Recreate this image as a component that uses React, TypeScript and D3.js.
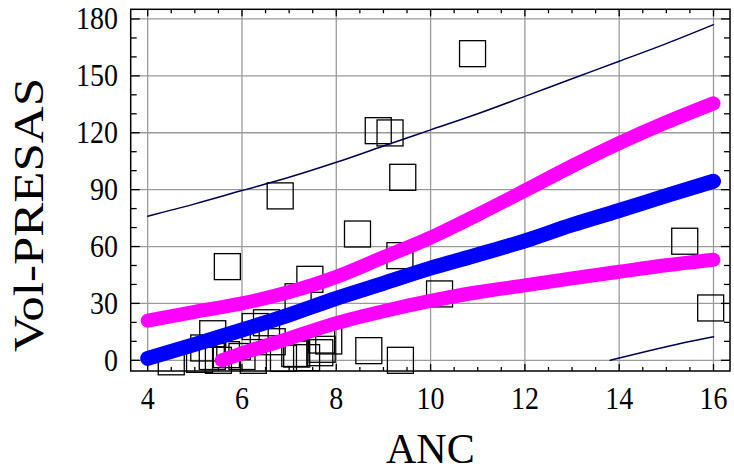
import React from "react";
import * as d3 from "d3";

// Scatter data (ANC, Vol-PRESAS)
const pointsX = [10.89, 8.89, 9.14, 9.41, 6.81, 8.45, 5.69, 7.44, 9.35, 10.19, 15.39, 15.94, 7.19, 8.69, 9.36, 4.5,
  5.38, 5.19, 5.1, 5.37, 5.67, 5.9, 6.28, 6.52, 6.64, 6.24, 6.88, 7.12, 7.37, 7.65, 7.69, 7.84, 6.0, 5.5, 7.16, 7.7];
const pointsY = [161.7, 121.1, 119.9, 96.5, 86.7, 66.6, 49.4, 42.7, 55.2, 35, 62.8, 27.6, 33.5, 5.1, 0, -0.8,
  14, 6.5, 0.5, 2, 3, 7.2, 17.8, 19.8, 9.8, 0, 1, 3.6, 1.4, 4, 10.7, 10.2, 2, 0, 3.3, 5.8];

// Fitted line and bands
const bandX = [4, 5, 6, 7, 8, 9, 10, 11, 12, 13, 14, 15, 16];
const fitY = [1, 8.4, 16, 24, 32.7, 40.6, 48.6, 55.7, 63, 71.4, 79, 86.8, 94.4];
const upperConfY = [20.9, 25.6, 30, 36, 44, 54.3, 64.7, 76.8, 89.5, 102.4, 114.5, 125.5, 135.5];
const lowerConfX = [5.57, 6, 7, 8, 9, 10, 11, 12, 13, 14, 15, 16];
const lowerConfY = [0, 3.7, 11.6, 19.6, 25.9, 31.3, 35.9, 39.5, 43.2, 46.7, 50.1, 53];
const upperPredY = [76, 82.5, 89.5, 96.5, 104.4, 113, 121.5, 130, 139.2, 148.5, 157.7, 167, 177];
const lowerPredX = [13.81, 14, 15, 16];
const lowerPredY = [0, 1.2, 7.2, 12.4];

const xTicks = [4, 6, 8, 10, 12, 14, 16];
const yTicks = [0, 30, 60, 90, 120, 150, 180];
const xLabel = "ANC";
const yLabel = "Vol-PRESAS";

const W = 734, H = 472;
const L = 130.7, R = 730, T = 9.3, B = 371;

export default function App() {
  const x = d3.scaleLinear().domain([3.64, 16.35]).range([L, R]);
  const y = d3.scaleLinear().domain([-5.64, 185.1]).range([B, T]);
  const line = d3.line<[number, number]>().x(d => x(d[0])).y(d => y(d[1])).curve(d3.curveMonotoneX);
  const zip = (xs: number[], ys: number[]) => xs.map((v, i) => [v, ys[i]] as [number, number]);

  const xMinor = d3.range(4, 16.01, 0.5).filter(v => Math.abs(v % 2) > 0.01);
  const yMinor = d3.range(0, 181, 10).filter(v => v % 30 !== 0);
  const font = "'Liberation Serif', 'Times New Roman', serif";
  const tick = { stroke: "#000", strokeWidth: 1.3 };

  return (
    <svg width={W} height={H} style={{ position: "absolute", left: 0, top: 0, background: "#fff" }}>
      <defs>
        <clipPath id="plot"><rect x={L} y={T} width={R - L} height={B - T} /></clipPath>
      </defs>
      <rect x={0} y={0} width={W} height={H} fill="#fff" />
      {/* grid */}
      {xTicks.map(t => <line key={"gx" + t} x1={x(t)} x2={x(t)} y1={T} y2={B} stroke="#9a9a9a" strokeWidth={1.3} />)}
      {yTicks.map(t => <line key={"gy" + t} x1={L} x2={R} y1={y(t)} y2={y(t)} stroke="#9a9a9a" strokeWidth={1.3} />)}
      {/* ticks */}
      {xTicks.map(t => (
        <g key={"tx" + t}>
          <line x1={x(t)} x2={x(t)} y1={B} y2={B - 7} {...tick} />
          <line x1={x(t)} x2={x(t)} y1={T} y2={T + 7} {...tick} />
        </g>
      ))}
      {xMinor.map(t => (
        <g key={"mx" + t}>
          <line x1={x(t)} x2={x(t)} y1={B} y2={B - 4} {...tick} />
          <line x1={x(t)} x2={x(t)} y1={T} y2={T + 4} {...tick} />
        </g>
      ))}
      {yTicks.map(t => (
        <g key={"ty" + t}>
          <line x1={L} x2={L + 9} y1={y(t)} y2={y(t)} {...tick} />
          <line x1={R} x2={R - 9} y1={y(t)} y2={y(t)} {...tick} />
        </g>
      ))}
      {yMinor.map(t => (
        <g key={"my" + t}>
          <line x1={L} x2={L + 6} y1={y(t)} y2={y(t)} {...tick} />
          <line x1={R} x2={R - 6} y1={y(t)} y2={y(t)} {...tick} />
        </g>
      ))}
      {/* points */}
      <g>
        {pointsX.map((px, i) => (
          <rect key={"p" + i} x={x(px) - 13} y={y(pointsY[i]) - 13} width={26} height={26}
            fill="none" stroke="#000" strokeWidth={1.3} />
        ))}
      </g>
      {/* lines */}
      <g clipPath="url(#plot)" fill="none" strokeLinecap="round" strokeLinejoin="round">
        <path d={line(zip(bandX, upperPredY)) || ""} stroke="#000050" strokeWidth={1.5} />
        <path d={line(zip(lowerPredX, lowerPredY)) || ""} stroke="#000050" strokeWidth={1.5} />
        <path d={line(zip(bandX, upperConfY)) || ""} stroke="#ff00ff" strokeWidth={14} />
        <path d={line(zip(lowerConfX, lowerConfY)) || ""} stroke="#ff00ff" strokeWidth={14} />
        <path d={line(zip(bandX, fitY)) || ""} stroke="#0000ff" strokeWidth={15} />
      </g>
      {/* frame */}
      <rect x={L} y={T} width={R - L} height={B - T} fill="none" stroke="#000" strokeWidth={1.5} />
      {/* tick labels */}
      {xTicks.map(t => (
        <text key={"lx" + t} transform={`translate(${x(t)},399) scale(1,1.1)`} textAnchor="middle"
          dominantBaseline="central" fontFamily={font} fontSize={28} fill="#000">{t}</text>
      ))}
      {yTicks.map(t => (
        <text key={"ly" + t} transform={`translate(118,${y(t)}) scale(1,1.1)`} textAnchor="end"
          dominantBaseline="central" fontFamily={font} fontSize={28} fill="#000">{t}</text>
      ))}
      <text x={(L + R) / 2} y={463} textAnchor="middle" fontFamily={font} fontSize={42} fill="#000">{xLabel}</text>
      <text transform="translate(43,215) rotate(-90)" textAnchor="middle" fontFamily={font} fontSize={42}
        textLength={274} lengthAdjust="spacingAndGlyphs" fill="#000">{yLabel}</text>
    </svg>
  );
}
